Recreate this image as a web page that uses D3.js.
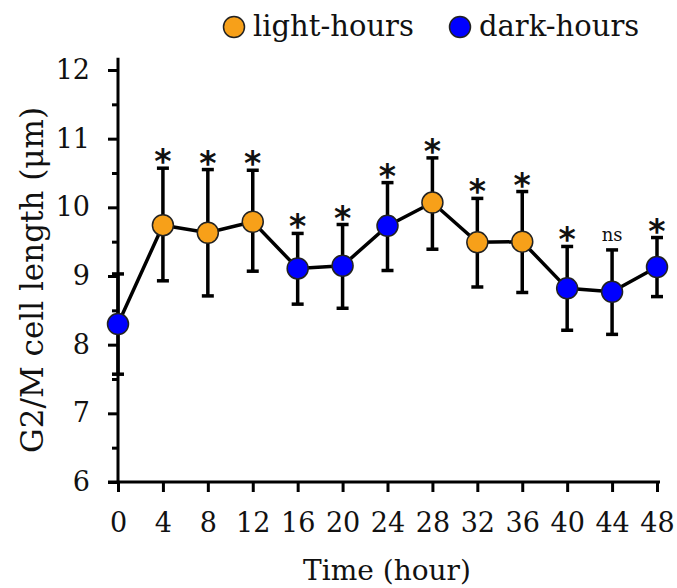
<!DOCTYPE html>
<meta charset="utf-8">
<head>
<style>
body { margin: 0; background: #fff; }
text { font-family: "DejaVu Serif", serif; fill: #111; }
.axis path, .axis line { stroke: #000; stroke-width: 3px; }
.axis text { font-size: 27px; }
.line { fill: none; stroke: #000; stroke-width: 3.5px; }
.err { stroke: #000; stroke-width: 3.5px; }
</style>
</head>
<body>
<svg width="677" height="588"></svg>
<script src="https://cdn.jsdelivr.net/npm/d3@7"></script>
<script>
// sampling times (hours) and mean G2/M cell length
var hours = [0, 4, 8, 12, 16, 20, 24, 28, 32, 36, 40, 44, 48];
var means = [8.30, 9.74, 9.63, 9.79, 9.11, 9.15, 9.73, 10.07, 9.49, 9.50, 8.82, 8.77, 9.13];
var upper = [9.03, 10.57, 10.55, 10.54, 9.62, 9.75, 10.36, 10.72, 10.13, 10.23, 9.43, 9.38, 9.56];
var lower = [7.57, 8.93, 8.71, 9.07, 8.59, 8.53, 9.08, 9.39, 8.84, 8.76, 8.21, 8.15, 8.70];
var phase = ["dark", "light", "light", "light", "dark", "dark", "dark", "light", "light", "light", "dark", "dark", "dark"];
var marks = ["", "*", "*", "*", "*", "*", "*", "*", "*", "*", "*", "ns", "*"];
var xTicks = [0, 4, 8, 12, 16, 20, 24, 28, 32, 36, 40, 44, 48];
var yTicks = [6, 7, 8, 9, 10, 11, 12];
var yMinor = [6.5, 7.5, 8.5, 9.5, 10.5, 11.5];
var legendLabels = ["light-hours", "dark-hours"];

var colors = {light: "#f7a019", dark: "#0000ff"};

var svg = d3.select("svg");
var x = d3.scaleLinear().domain([0, 48]).range([118, 657]);
var y = d3.scaleLinear().domain([6, 12]).range([482, 70]);

// y axis: minor ticks, then major with labels
svg.append("g")
    .attr("class", "axis")
    .attr("transform", "translate(118,0)")
    .call(d3.axisLeft(y).tickValues(yMinor).tickSize(6).tickFormat(""))
    .select(".domain").remove();
var ya = svg.append("g")
    .attr("class", "axis")
    .attr("transform", "translate(118,0)")
    .call(d3.axisLeft(y).tickValues(yTicks).tickSize(10).tickPadding(18).tickSizeOuter(0).tickFormat(d3.format("d")));
ya.select(".domain").attr("d", "M0," + y(12.18) + "V" + y(6));

var xa = svg.append("g")
    .attr("class", "axis")
    .attr("transform", "translate(0," + y(6) + ")")
    .call(d3.axisBottom(x).tickValues(xTicks).tickSize(10).tickPadding(17).tickSizeOuter(0));
xa.select(".domain").attr("d", "M108,0H" + (x(48) + 3));
xa.selectAll("text").attr("dy", "0.85em");

var data = hours.map(function(h, i) {
  return {h: h, m: means[i], hi: upper[i], lo: lower[i], p: phase[i], s: marks[i]};
});

// error bars
var eb = svg.append("g").selectAll("g").data(data).enter().append("g");
eb.append("line").attr("class", "err")
    .attr("x1", function(d) { return x(d.h); }).attr("x2", function(d) { return x(d.h); })
    .attr("y1", function(d) { return y(d.hi); }).attr("y2", function(d) { return y(d.lo); });
eb.append("line").attr("class", "err")
    .attr("x1", function(d) { return x(d.h) - 6; }).attr("x2", function(d) { return x(d.h) + 6; })
    .attr("y1", function(d) { return y(d.hi); }).attr("y2", function(d) { return y(d.hi); });
eb.append("line").attr("class", "err")
    .attr("x1", function(d) { return x(d.h) - 6; }).attr("x2", function(d) { return x(d.h) + 6; })
    .attr("y1", function(d) { return y(d.lo); }).attr("y2", function(d) { return y(d.lo); });

var line = d3.line()
    .x(function(d) { return x(d.h); })
    .y(function(d) { return y(d.m); });
svg.append("path").datum(data).attr("class", "line").attr("d", line);

svg.append("g").selectAll("circle").data(data).enter().append("circle")
    .attr("cx", function(d) { return x(d.h); })
    .attr("cy", function(d) { return y(d.m); })
    .attr("r", 10.5)
    .attr("fill", function(d) { return colors[d.p]; })
    .attr("stroke", "#222")
    .attr("stroke-width", 1.5);

// significance marks
svg.append("g").selectAll("text").data(data.filter(function(d) { return d.s; })).enter().append("text")
    .attr("x", function(d) { return x(d.h); })
    .attr("y", function(d) { return d.s === "ns" ? y(d.hi) - 9 : y(d.hi) + 5; })
    .attr("text-anchor", "middle")
    .style("font-family", function(d) { return d.s === "ns" ? "DejaVu Serif" : "DejaVu Sans"; })
    .style("font-size", function(d) { return d.s === "ns" ? "18px" : "33px"; })
    .style("font-weight", function(d) { return d.s === "ns" ? "normal" : "bold"; })
    .text(function(d) { return d.s; });

// axis titles
svg.append("text")
    .attr("transform", "translate(43,280) rotate(-90)")
    .attr("text-anchor", "middle")
    .style("font-size", "31px")
    .text("G2/M cell length (\u03bcm)");
svg.append("text")
    .attr("x", 387).attr("y", 580)
    .attr("text-anchor", "middle")
    .style("font-size", "28px")
    .text("Time (hour)");

// legend
var lg = svg.append("g").selectAll("g").data(legendLabels).enter().append("g")
    .attr("transform", function(d, i) { return "translate(" + (234 + i * 226) + ",27)"; });
lg.append("circle").attr("r", 10.5)
    .attr("fill", function(d, i) { return i === 0 ? colors.light : colors.dark; })
    .attr("stroke", "#222").attr("stroke-width", 1.5);
lg.append("text").attr("x", 19).attr("y", 9)
    .style("font-size", "29px")
    .text(function(d) { return d; });
</script>
</body>
</html>
